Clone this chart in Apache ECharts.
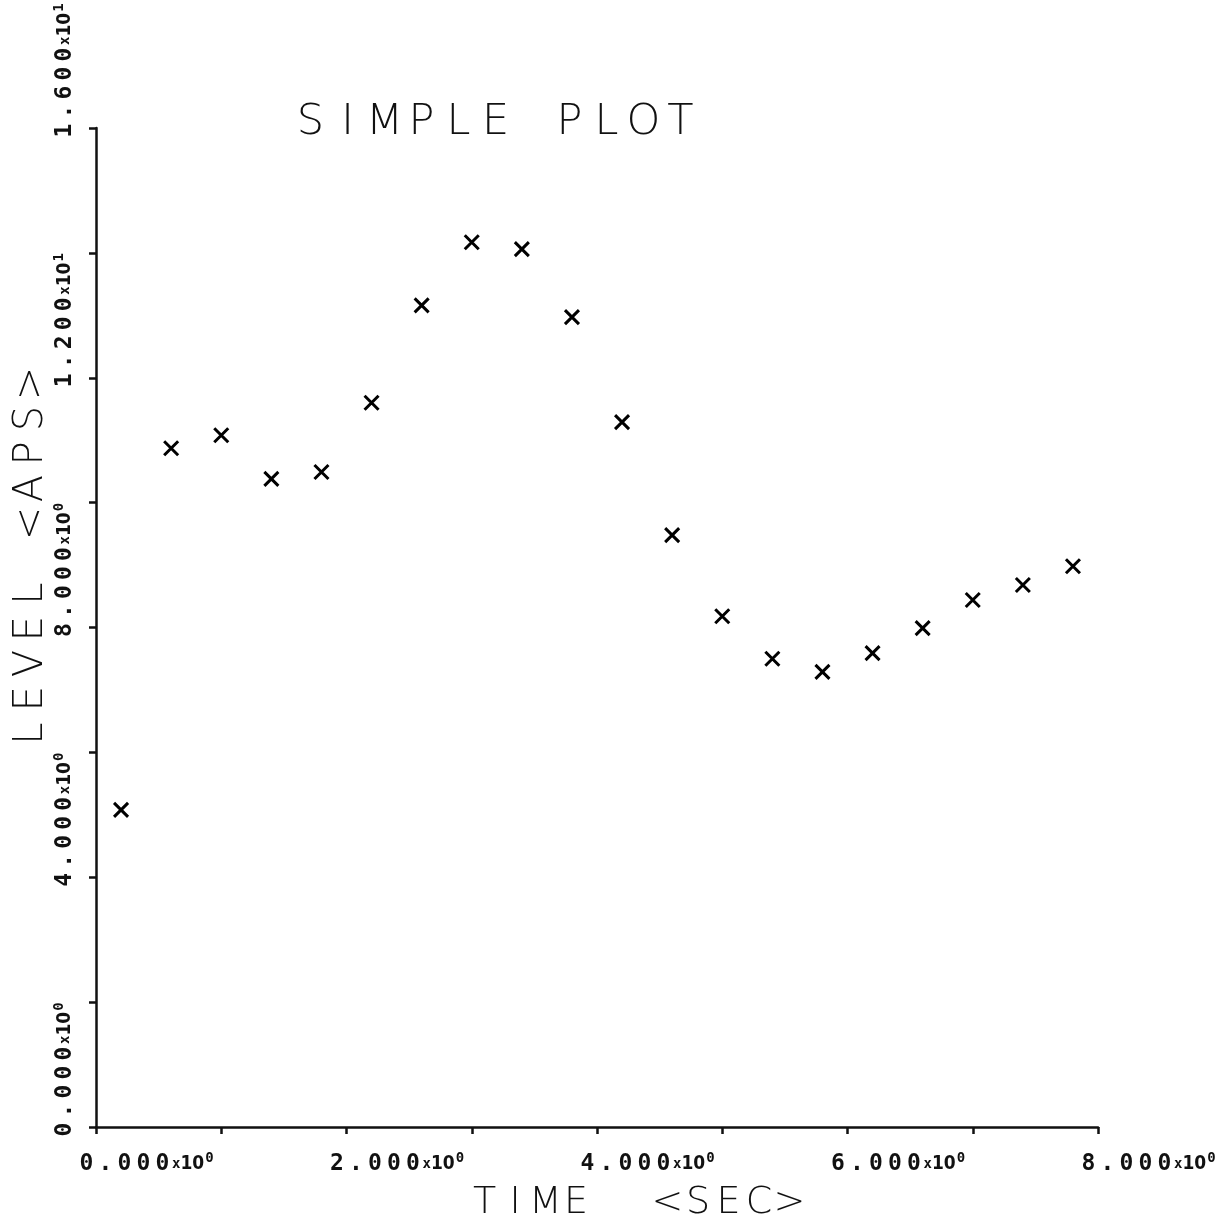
<!DOCTYPE html>
<html>
<head>
<meta charset="utf-8">
<script src="https://cdn.jsdelivr.net/npm/echarts@6/dist/echarts.min.js"></script>
<style>html,body{margin:0;padding:0;background:#fff}#c{width:1227px;height:1226px}</style>
</head>
<body>
<div id="c"></div>
<script>
const timeSec = [0.2, 0.6, 1.0, 1.4, 1.8, 2.2, 2.6, 3.0, 3.4, 3.8, 4.2, 4.6, 5.0, 5.4, 5.8, 6.2, 6.6, 7.0, 7.4, 7.8];
const levelAps = [5.08, 10.87, 11.08, 10.38, 10.49, 11.6, 13.16, 14.17, 14.06, 12.97, 11.29, 9.48, 8.18, 7.5, 7.29, 7.59, 7.99, 8.44, 8.68, 8.98];
const xTickValues = [0, 2, 4, 6, 8];
const xTickMantissa = ['0.000', '2.000', '4.000', '6.000', '8.000'];
const xTickExponent = ['0', '0', '0', '0', '0'];
const yTickValues = [0, 4, 8, 12, 16];
const yTickMantissa = ['0.000', '4.000', '8.000', '1.200', '1.600'];
const yTickExponent = ['0', '0', '0', '1', '1'];
const titleText = 'SIMPLE PLOT';
const xName = 'TIME  <SEC>';
const yName = 'LEVEL <APS>';

function spaced(str, key) {
  return str.split('').map(c => '{' + key + '|' + (c === ' ' ? '\u00a0' : c) + '}').join('');
}
function tickLabel(vals, mant, exps) {
  return function (v) {
    const i = vals.findIndex(t => Math.abs(t - v) < 1e-9);
    if (i < 0) return '';
    return spaced(mant[i], 'm') + '{x|x}{t|10}{s|' + exps[i] + '}';
  };
}
const mono = 'DejaVu Sans Mono';
const tickRich = {
  m: { width: 19, align: 'center', fontFamily: mono, fontWeight: 'bold', fontSize: 23, color: '#111', lineHeight: 26 },
  x: { fontFamily: mono, fontWeight: 'bold', fontSize: 14, color: '#111', lineHeight: 26 },
  t: { fontFamily: 'Liberation Sans Narrow, DejaVu Sans Condensed, DejaVu Sans', fontWeight: 'bold', fontSize: 19, color: '#111', lineHeight: 26 },
  s: { fontFamily: mono, fontWeight: 'bold', fontSize: 14, color: '#111', verticalAlign: 'top', lineHeight: 26, padding: [0, 0, 10, 1] }
};
const thin = 'DejaVu Sans';

const data = timeSec.map((t, i) => [t, levelAps[i]]);
const chart = echarts.init(document.getElementById('c'), null, { renderer: 'canvas' });
chart.setOption({
  backgroundColor: '#fff',
  animation: false,
  title: {
    text: spaced(titleText, 'c'),
    left: 287, top: 96,
    textStyle: { rich: { c: { width: 37, align: 'center', fontFamily: thin, fontWeight: 200, fontSize: 43, color: '#111' } } }
  },
  grid: { left: 96, right: 129, top: 128, bottom: 99, containLabel: false, outerBoundsMode: 'none' },
  xAxis: {
    type: 'value', min: 0, max: 8, interval: 1,
    name: spaced(xName, 'c'), nameLocation: 'middle', nameGap: 57, nameMoveOverlap: false,
    nameTextStyle: { padding: [0, 0, 0, 80], rich: { c: { width: 30.5, align: 'center', fontFamily: thin, fontWeight: 200, fontSize: 38, color: '#111' } } },
    axisLine: { show: true, onZero: false, lineStyle: { color: '#111', width: 2.5 } },
    axisTick: { show: true, inside: false, length: 7, lineStyle: { color: '#111', width: 2.5 } },
    splitLine: { show: false },
    axisLabel: { show: true, showMinLabel: true, showMaxLabel: true, align: 'left', margin: 24, padding: [0, 0, 0, -19],
      formatter: tickLabel(xTickValues, xTickMantissa, xTickExponent), rich: tickRich }
  },
  yAxis: {
    type: 'value', min: 0, max: 16, interval: 2,
    name: spaced(yName, 'c'), nameLocation: 'middle', nameGap: 44, nameRotate: 90, nameMoveOverlap: false,
    nameTextStyle: { padding: [0, 0, 0, 138], rich: { c: { width: 35, align: 'center', fontFamily: thin, fontWeight: 200, fontSize: 40, color: '#111' } } },
    axisLine: { show: true, onZero: false, lineStyle: { color: '#111', width: 2.5 } },
    axisTick: { show: true, inside: false, length: 7, lineStyle: { color: '#111', width: 2.5 } },
    splitLine: { show: false },
    axisLabel: { show: true, showMinLabel: true, showMaxLabel: true, rotate: 90, align: 'left', verticalAlign: 'middle', margin: 31, padding: [0, 0, 0, -12],
      formatter: tickLabel(yTickValues, yTickMantissa, yTickExponent), rich: tickRich }
  },
  series: [{
    type: 'scatter',
    data: data,
    symbol: 'path://M0,0L10,10M10,0L0,10',
    symbolSize: 14,
    itemStyle: { color: 'none', borderColor: '#000', borderWidth: 3, opacity: 1 }
  }]
});
</script>
</body>
</html>
